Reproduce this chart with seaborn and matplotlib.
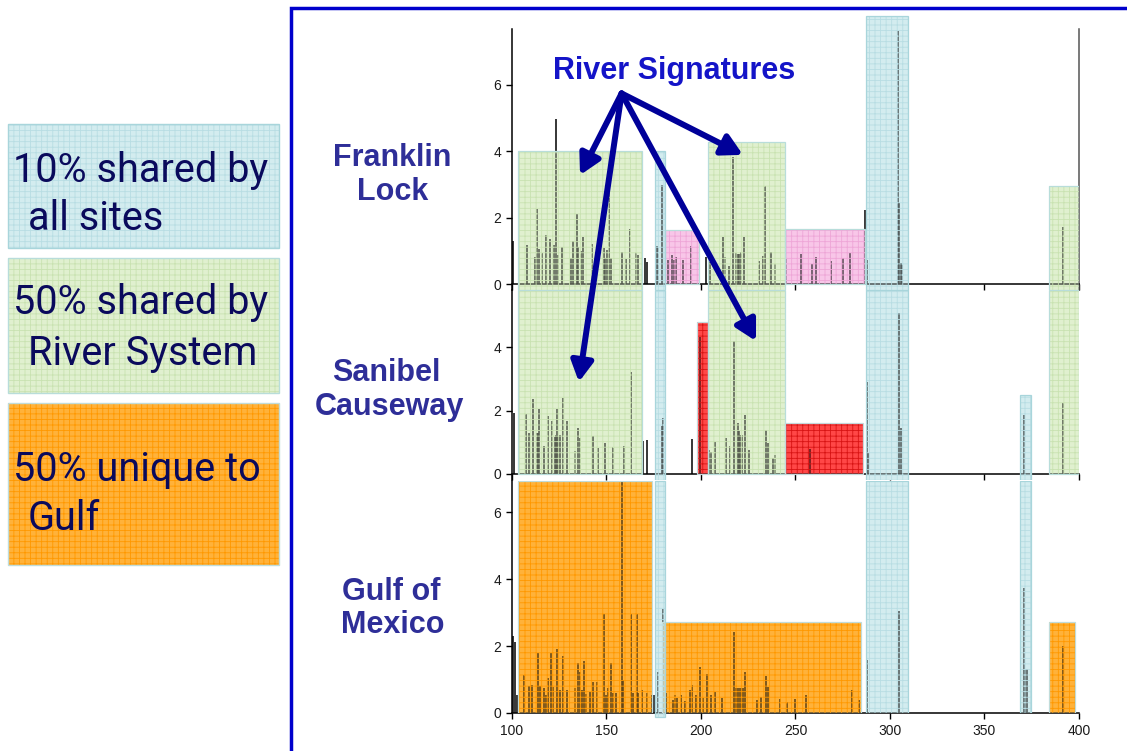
import matplotlib
matplotlib.use("Agg")
import matplotlib.pyplot as plt
import seaborn as sns
from matplotlib.patches import Rectangle, ConnectionPatch
from matplotlib.colors import to_rgba

# ---------------- data ----------------
x_ticks = [100, 150, 200, 250, 300, 350, 400]
site_lines = [["Franklin", "Lock"], ["Sanibel", "Causeway"], ["Gulf of", "Mexico"]]
legend_lines = [["10% shared by", "all sites"], ["50% shared by", "River System"], ["50% unique to", "Gulf"]]
legend_kinds = ["all", "river", "gulf"]
title_text = "River Signatures"

franklin_x = [100.5, 108.1, 112.3, 113.2, 114.1, 116.0, 118.1, 120.3, 122.2, 123.3, 124.2, 126.3, 131.4, 132.3,
              134.2, 135.1, 136.3, 137.6, 142.5, 148.5, 149.4, 150.4, 151.5, 152.4, 158.4, 160.5, 162.4, 165.4,
              166.7, 170.5, 171.6, 176.5, 177.4, 179.5, 182.7, 184.4, 185.7, 186.6, 190.6, 194.5, 202.6, 204.8,
              211.8, 212.7, 215.0, 216.8, 218.5, 219.4, 220.3, 221.2, 222.8, 230.9, 233.0, 234.0, 236.9, 239.2,
              245.1, 252.9, 258.9, 260.8, 268.9, 275.0, 279.0, 286.9, 288.0, 304.1, 304.9, 305.6, 306.3, 391.7]
franklin_y = [1.30, 1.19, 0.82, 2.25, 1.04, 0.92, 1.48, 1.36, 1.19, 4.97, 0.87, 1.10, 0.77, 1.30,
              2.11, 1.12, 1.00, 1.41, 1.22, 1.07, 0.77, 1.02, 2.73, 0.77, 0.95, 0.75, 1.66, 0.97,
              0.87, 0.77, 0.65, 1.14, 1.10, 2.98, 0.72, 0.87, 0.72, 0.80, 0.72, 1.15, 0.81, 0.67,
              1.42, 0.82, 0.54, 3.83, 0.92, 0.90, 0.90, 0.95, 1.41, 0.70, 0.84, 2.96, 0.97, 0.60,
              0.77, 0.89, 0.60, 0.80, 0.69, 0.77, 0.92, 2.23, 0.72, 7.62, 2.44, 0.62, 0.62, 1.71]

sanibel_x = [101.1, 107.2, 109.2, 110.9, 113.1, 113.6, 114.3, 117.1, 119.0, 121.0, 122.8, 123.3, 124.0, 124.5,
             125.4, 127.2, 129.1, 133.2, 135.1, 136.0, 143.0, 145.3, 149.0, 153.3, 159.1, 163.1, 169.1, 171.4,
             179.2, 179.9, 195.4, 199.5, 204.4, 205.3, 207.2, 213.2, 215.3, 217.6, 219.4, 220.1, 220.8, 221.5,
             223.1, 225.4, 234.4, 235.3, 238.3, 239.3, 257.7, 287.7, 288.5, 304.9, 305.6, 371.0, 391.5]
sanibel_y = [1.91, 1.88, 1.30, 2.35, 1.28, 1.28, 2.04, 0.88, 1.83, 1.67, 1.18, 1.22, 2.04, 1.22,
             1.22, 2.41, 1.67, 0.72, 1.46, 1.12, 1.20, 0.83, 0.97, 0.86, 0.89, 3.22, 1.04, 1.07,
             1.51, 1.75, 1.09, 4.32, 0.76, 0.70, 1.02, 1.12, 0.88, 4.19, 1.60, 1.36, 1.23, 1.23,
             1.86, 0.76, 1.39, 0.97, 0.49, 0.60, 0.78, 2.91, 0.65, 5.06, 1.45, 1.86, 2.24]

gulf_x = [100.7, 101.7, 102.8, 106.5, 109.0, 110.8, 113.9, 115.0, 116.9, 117.8, 118.9, 120.8, 121.9, 123.8,
          125.4, 127.0, 128.9, 133.2, 134.8, 136.0, 136.9, 137.9, 139.0, 141.1, 143.0, 145.0, 148.8, 149.7,
          150.8, 152.4, 153.3, 155.0, 158.0, 158.9, 163.1, 164.0, 166.1, 166.8, 169.0, 171.3, 174.2, 175.1,
          177.1, 179.9, 181.3, 185.3, 186.2, 187.1, 189.4, 191.4, 194.3, 195.4, 197.2, 199.3, 201.2, 203.3,
          205.3, 207.2, 211.3, 217.3, 218.3, 219.2, 220.1, 221.0, 222.4, 223.3, 229.5, 231.6, 234.6, 235.4,
          241.8, 245.5, 249.6, 255.4, 279.7, 283.8, 287.8, 304.6, 371.0, 371.6, 372.3, 391.5]
gulf_y = [2.30, 2.13, 0.54, 1.13, 0.82, 0.84, 1.80, 0.82, 0.74, 0.54, 1.04, 1.80, 0.79, 1.90,
          0.70, 1.70, 0.69, 0.74, 1.50, 1.23, 0.69, 1.55, 0.57, 0.62, 0.93, 0.93, 2.97, 0.54,
          0.74, 1.50, 0.60, 0.60, 6.90, 1.00, 2.95, 0.60, 2.97, 0.60, 0.69, 0.60, 0.54, 0.54,
          1.23, 3.12, 0.60, 0.39, 0.54, 0.45, 0.54, 0.36, 0.69, 0.84, 0.54, 1.38, 0.45, 1.16,
          0.54, 0.62, 0.45, 2.43, 0.74, 0.74, 0.74, 0.74, 0.74, 1.23, 0.38, 0.49, 1.11, 0.79,
          0.41, 0.34, 0.42, 0.53, 0.70, 0.38, 1.58, 3.04, 3.73, 1.30, 1.30, 2.00]

# highlighted zones (None = runs to the panel edge)
franklin_zone_kind = ["river", "site", "river", "site", "river", "all", "all"]
franklin_zone_x0 = [103.2, 181.0, 203.9, 244.4, 384.3, 175.7, 287.1]
franklin_zone_x1 = [168.8, 198.9, 244.3, 286.7, 399.8, 181.0, 309.4]
franklin_zone_y0 = [None, 0, None, 0, None, None, None]
franklin_zone_y1 = [4.0, 1.63, 4.27, 1.65, 2.95, 4.0, 8.07]

sanibel_zone_kind = ["river", "unique", "river", "unique", "river", "all", "all", "all"]
sanibel_zone_x0 = [103.2, 197.7, 203.9, 244.4, 384.3, 175.7, 287.1, 368.8]
sanibel_zone_x1 = [168.8, 203.9, 244.3, 285.9, 399.8, 181.0, 309.4, 374.6]
sanibel_zone_y0 = [0, 0, 0, 0, 0, None, None, None]
sanibel_zone_y1 = [None, 4.80, None, 1.62, None, None, None, 2.49]

gulf_zone_kind = ["gulf", "gulf", "gulf", "all", "all", "all"]
gulf_zone_x0 = [103.3, 179.2, 384.1, 175.7, 287.1, 368.8]
gulf_zone_x1 = [173.9, 284.5, 397.9, 181.0, 309.4, 374.6]
gulf_zone_y0 = [0, 0, 0, -0.12, 0, 0]
gulf_zone_y1 = [None, 2.71, 2.72, None, None, None]

# arrow anchors (data coords): start in panel 0, targets (panel, x, y)
arrow_start = (158.0, 5.74)
arrow_targets = [(0, 136.0, 3.28), (0, 222.2, 3.89), (1, 229.1, 4.19), (1, 135.4, 2.90)]

# ---------------- style ----------------
ZONE_STYLE = {
    "all":    dict(fill="#D3ECEF", grid="#B8DDE3", edge="#A8D5DB"),
    "river":  dict(fill="#E0F0CF", grid="#C9E2B1", edge="#B8DDDA"),
    "site":   dict(fill="#F8C6E8", grid="#EEA6D7", edge="#B8DDDA"),
    "unique": dict(fill="#FF4747", grid="#D81414", edge="#C4D8DB"),
    "gulf":   dict(fill="#FFB23A", grid="#FF9800", edge="#C0DCDA"),
}
HATCH = "+++"

sns.set_theme(style="white")
plt.rcParams["font.family"] = ["Liberation Sans", "DejaVu Sans"]
plt.rcParams["hatch.linewidth"] = 0.6

fig = plt.figure(figsize=(11.27, 7.51), dpi=100)
fig.patch.set_facecolor("white")

L, W = 0.4543, 0.5031
panel_boxes = [(0.61385, 0.34754), (0.36085, 0.25300), (0.05060, 0.30892)]
ylims = [(-0.18, 7.68), (-0.19, 5.80), (0.0, 6.93)]
yticks = [[0, 2, 4, 6], [0, 2, 4], [0, 2, 4, 6]]

panels = [
    (franklin_x, franklin_y, franklin_zone_kind, franklin_zone_x0, franklin_zone_x1, franklin_zone_y0, franklin_zone_y1),
    (sanibel_x, sanibel_y, sanibel_zone_kind, sanibel_zone_x0, sanibel_zone_x1, sanibel_zone_y0, sanibel_zone_y1),
    (gulf_x, gulf_y, gulf_zone_kind, gulf_zone_x0, gulf_zone_x1, gulf_zone_y0, gulf_zone_y1),
]


def add_zone(ax, kind, x0, x1, y0, y1, ylim):
    st = ZONE_STYLE[kind]
    lo = ylim[0] if y0 is None else y0
    hi = ylim[1] if y1 is None else y1
    spill = lo < ylim[0] - 1e-9 or hi > ylim[1] + 1e-9
    z = 0.05 if kind == "all" else 0.0
    kw = dict(clip_on=not spill)
    ax.add_patch(Rectangle((x0, lo), x1 - x0, hi - lo, facecolor=st["fill"], edgecolor="none",
                           lw=0, zorder=1 + z, **kw))
    ax.add_patch(Rectangle((x0, lo), x1 - x0, hi - lo, facecolor=to_rgba(st["fill"], 0.36),
                           edgecolor=st["grid"], lw=0, hatch=HATCH, zorder=3 + z, **kw))
    ax.add_patch(Rectangle((x0, lo), x1 - x0, hi - lo, facecolor="none", edgecolor=st["edge"],
                           lw=0.9, zorder=3.02 + z, **kw))


axes = []
for i, ((b, h), ylim, yt, pdata) in enumerate(zip(panel_boxes, ylims, yticks, panels)):
    px, py, kinds, zx0, zx1, zy0, zy1 = pdata
    assert len(px) == len(py)
    ax = fig.add_axes([L, b, W, h])
    ax.set_facecolor("none")
    ax.set_xlim(100, 400)
    ax.set_ylim(*ylim)
    for k, a, c, lo, hi in zip(kinds, zx0, zx1, zy0, zy1):
        add_zone(ax, k, a, c, lo, hi, ylim)
    ax.vlines(px, 0, py, colors="black", lw=1.1, zorder=2)
    ax.set_xticks(x_ticks)
    ax.set_yticks(yt)
    ax.set_yticklabels([str(v) for v in yt])
    ax.tick_params(axis="both", direction="out", length=4.5, width=1.0, color="black",
                   labelsize=10, labelcolor="#1a1a1a", pad=3.5, left=True, bottom=True)
    for s in ["top", "right"]:
        ax.spines[s].set_visible(False)
    for s in ["left", "bottom"]:
        ax.spines[s].set_color("black")
        ax.spines[s].set_linewidth(1.1)
    if i < 2:
        ax.spines["bottom"].set_position(("data", 0))
        ax.tick_params(labelbottom=False)
    if i == 0:
        ax.spines["right"].set_visible(True)
        ax.spines["right"].set_color("#555555")
        ax.spines["right"].set_linewidth(1.1)
    axes.append(ax)

# ---- left legend boxes ----
legend_rects = [(0.0071, 0.6698, 0.2405, 0.1651), (0.0071, 0.4767, 0.2405, 0.1798), (0.0071, 0.2477, 0.2405, 0.2157)]
legend_baselines = [(0.7577, 0.6937), (0.5819, 0.5140), (0.3595, 0.2943)]
for kind, (rx, ry, rw, rh), lines, (b1, b2) in zip(legend_kinds, legend_rects, legend_lines, legend_baselines):
    st = ZONE_STYLE[kind]
    fig.add_artist(Rectangle((rx, ry), rw, rh, transform=fig.transFigure, facecolor=st["fill"],
                             edgecolor=st["grid"], lw=0, hatch=HATCH, zorder=1))
    fig.add_artist(Rectangle((rx, ry), rw, rh, transform=fig.transFigure, facecolor="none",
                             edgecolor=st["edge"], lw=1.0, zorder=1.1))
    fig.text(0.0115, b1, lines[0], fontsize=28.5, family=["Roboto", "DejaVu Sans"], color="#0A0A5C",
             ha="left", va="baseline", zorder=2)
    fig.text(0.0248, b2, lines[1], fontsize=28.5, family=["Roboto", "DejaVu Sans"], color="#0A0A5C",
             ha="left", va="baseline", zorder=2)

# ---- site labels ----
site_centers = [(0.3478, 0.3487), (0.3425, 0.3452), (0.3470, 0.3487)]
site_baselines = [(1 - 166 / 751, 1 - 200 / 751), (1 - 381 / 751, 1 - 415 / 751), (1 - 600 / 751, 1 - 633 / 751)]
for lines, (c1, c2), (b1, b2) in zip(site_lines, site_centers, site_baselines):
    fig.text(c1, b1, lines[0], fontsize=22, fontweight="bold", color="#2E2E98", ha="center", va="baseline")
    fig.text(c2, b2, lines[1], fontsize=22, fontweight="bold", color="#2E2E98", ha="center", va="baseline")

# ---- title + arrows ----
fig.text(0.598, 1 - 79 / 751, title_text, fontsize=22, fontweight="bold", color="#1414C8",
         ha="center", va="baseline", zorder=12)
for pi, tx, ty in arrow_targets:
    cp = ConnectionPatch(xyA=arrow_start, coordsA=axes[0].transData, xyB=(tx, ty), coordsB=axes[pi].transData,
                         arrowstyle="-|>,head_length=0.55,head_width=0.3", mutation_scale=22,
                         lw=4.3, color="#000099", shrinkA=0, shrinkB=0, zorder=11)
    fig.add_artist(cp)

# ---- blue frame ----
fig.add_artist(Rectangle((291 / 1127, -0.1), 1.0, 0.1 + (1 - 8.3 / 751), transform=fig.transFigure,
                         fill=False, edgecolor="#0000CC", lw=2.5, zorder=5))

fig.savefig("out.png", dpi=100, facecolor="white")
